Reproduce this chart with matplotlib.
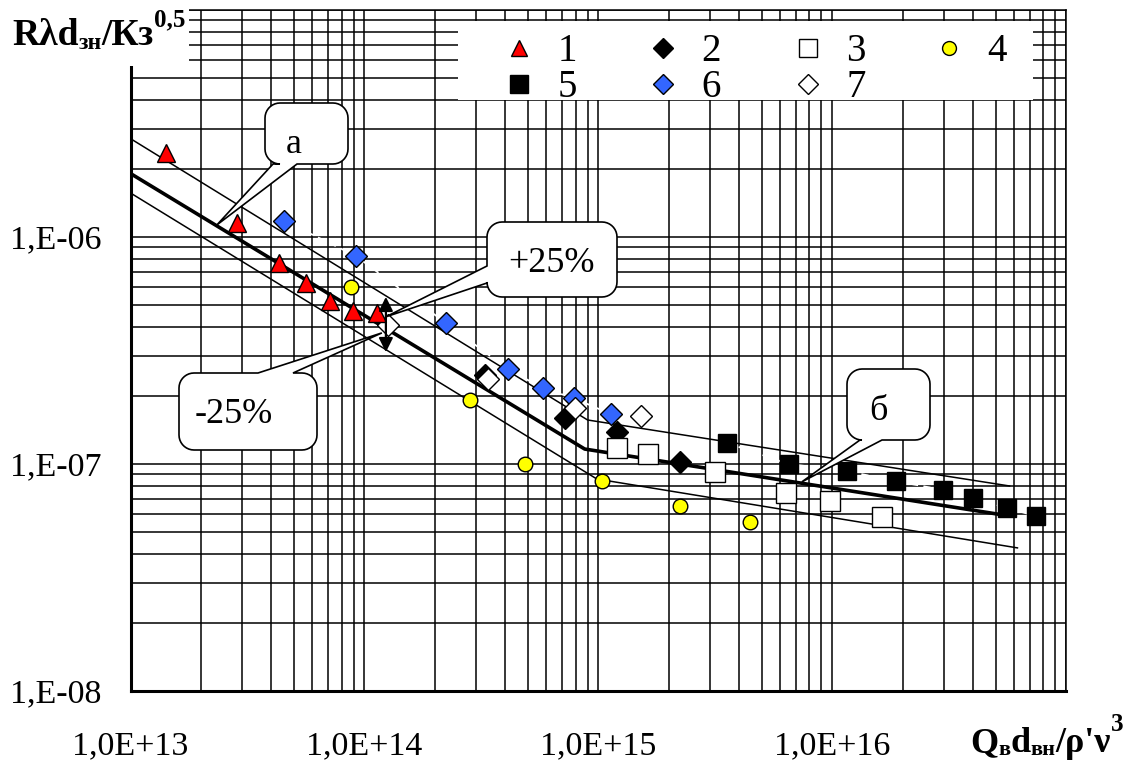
import numpy as np
import matplotlib
matplotlib.use("Agg")
import matplotlib.pyplot as plt
from matplotlib.transforms import Affine2D
from matplotlib.patches import Polygon, Rectangle
from matplotlib.lines import Line2D
from matplotlib.ticker import LogLocator, NullFormatter, FixedLocator, FixedFormatter

plt.rcParams['font.family'] = ['Liberation Serif', 'DejaVu Serif']

# ---------------- data ----------------
s1_x = [1.42e13, 2.85e13, 4.31e13, 5.62e13, 7.12e13, 8.93e13, 1.13e14]
s1_y = [2.34e-6, 1.15e-6, 7.68e-7, 6.27e-7, 5.22e-7, 4.72e-7, 4.63e-7]

s2_x = [3.27e14, 7.19e14, 1.20e15, 2.23e15]
s2_y = [2.47e-7, 1.60e-7, 1.38e-7, 1.02e-7]

s3_x = [1.20e15, 1.64e15, 3.15e15, 6.33e15, 9.76e15, 1.64e16]
s3_y = [1.18e-7, 1.11e-7, 9.22e-8, 7.45e-8, 6.87e-8, 5.84e-8]

s4_x = [8.76e13, 2.82e14, 4.85e14, 1.035e15, 2.23e15, 4.44e15]
s4_y = [6.02e-7, 1.91e-7, 1.00e-7, 8.41e-8, 6.53e-8, 5.55e-8]

s5_x = [3.54e15, 6.52e15, 1.153e16, 1.87e16, 2.99e16, 3.99e16, 5.62e16, 7.41e16]
s5_y = [1.24e-7, 1.00e-7, 9.31e-8, 8.41e-8, 7.68e-8, 7.08e-8, 6.40e-8, 5.90e-8]

s6_x = [4.53e13, 9.20e13, 2.23e14, 4.10e14, 5.79e14, 7.86e14, 1.13e15]
s6_y = [1.18e-6, 8.25e-7, 4.18e-7, 2.62e-7, 2.16e-7, 1.95e-7, 1.66e-7]

s7_x = [1.26e14, 3.37e14, 7.94e14, 1.52e15]
s7_y = [4.09e-7, 2.37e-7, 1.77e-7, 1.63e-7]

# approximation (thick) and the +/- band (thin)
mid_x = [1.025e13, 8.75e14, 5.46e16]
mid_y = [1.875e-6, 1.164e-7, 5.95e-8]
up_x = [1.025e13, 9.0e14, 5.74e16]
up_y = [2.67e-6, 1.563e-7, 8.0e-8]
lo_x = [1.0e13, 9.86e14, 6.2e16]
lo_y = [1.563e-6, 8.59e-8, 4.27e-8]

x_ticks = [1e13, 1e14, 1e15, 1e16, 1e17]
x_labels = ['1,0E+13', '1,0E+14', '1,0E+15', '1,0E+16', '']
y_ticks = [1e-8, 1e-7, 1e-6, 1e-5]
y_labels = ['1,E-08', '1,E-07', '1,E-06', '']

# ---------------- figure ----------------
W, H = 1131, 765
fig = plt.figure(figsize=(W / 100, H / 100), dpi=100)
fig.patch.set_facecolor('white')
# pixel coordinates with origin at top-left
PX = Affine2D().scale(1.0 / W, -1.0 / H).translate(0, 1) + fig.transFigure

ax = fig.add_axes([130.5 / W, (H - 691) / H, (1066 - 130.5) / W, (691 - 10) / H])
ax.set_xscale('log')
ax.set_yscale('log')
ax.set_xlim(1e13, 1e17)
ax.set_ylim(1e-8, 1e-5)

ax.xaxis.set_major_locator(FixedLocator(x_ticks))
ax.xaxis.set_major_formatter(FixedFormatter(x_labels))
ax.yaxis.set_major_locator(FixedLocator(y_ticks))
ax.yaxis.set_major_formatter(FixedFormatter(y_labels))
for axis in (ax.xaxis, ax.yaxis):
    axis.set_minor_locator(LogLocator(base=10, subs=np.arange(2, 10), numticks=100))
    axis.set_minor_formatter(NullFormatter())
ax.grid(True, which='both', color='black', lw=1.1)
ax.tick_params(which='both', length=0)
ax.tick_params(axis='x', labelsize=24.5, pad=29)
ax.tick_params(axis='y', labelsize=24.5, pad=21)
for side in ('left', 'bottom'):
    ax.spines[side].set_linewidth(2.2)
for side in ('top', 'right'):
    ax.spines[side].set_linewidth(1.1)

# band and approximation lines
ax.plot(up_x, up_y, color='black', lw=1.1, zorder=2)
ax.plot(lo_x, lo_y, color='black', lw=1.1, zorder=2)
ax.plot(mid_x, mid_y, color='black', lw=2.6, zorder=2)

# faint white connecting dashes
ax.plot(s6_x, s6_y, color='white', lw=1.3, ls=(0, (4, 3)), zorder=2.1)
ax.plot(s5_x, s5_y, color='white', lw=1.3, ls=(0, (4, 3)), zorder=2.1)

mk = dict(ls='none', markeredgecolor='black', markeredgewidth=1.0)
ax.plot(s1_x, s1_y, marker='^', ms=12.5, markerfacecolor='#ff0000', zorder=4, **mk)
ax.plot(s2_x, s2_y, marker='D', ms=11, markerfacecolor='black', zorder=3, **mk)
ax.plot(s4_x, s4_y, marker='o', ms=10.5, markerfacecolor='#ffff00', zorder=3, **mk)
ax.plot(s5_x, s5_y, marker='s', ms=13.5, markerfacecolor='black', zorder=3, **mk)
ax.plot(s6_x, s6_y, marker='D', ms=11, markerfacecolor='#3366ff', zorder=3.1, **mk)
ax.plot(s3_x, s3_y, marker='s', ms=14.5, markerfacecolor='white', zorder=3.2, **mk)
ax.plot(s7_x, s7_y, marker='D', ms=11, markerfacecolor='white', zorder=3.2, **mk)

# +/-25% double arrow
ax.annotate('', xy=(1.236e14, 5.45e-7), xytext=(1.236e14, 3.11e-7),
            arrowprops=dict(arrowstyle='<|-|>', color='black', lw=1.6,
                            mutation_scale=21, shrinkA=0, shrinkB=0), zorder=5)


def data_to_px(x, y):
    dx, dy = ax.transData.transform((x, y))
    return dx, H - dy


def callout(box, side, base, tip, r=15):
    x0, y0, x1, y1 = box
    pts = []

    def arc(cx, cy, a0, a1):
        for a in np.linspace(np.radians(a0), np.radians(a1), 10):
            pts.append((cx + r * np.cos(a), cy + r * np.sin(a)))

    arc(x0 + r, y0 + r, 180, 270)
    if side == 'top':
        pts.extend([(base[0], y0), tip, (base[1], y0)])
    arc(x1 - r, y0 + r, 270, 360)
    arc(x1 - r, y1 - r, 0, 90)
    if side == 'bottom':
        pts.extend([(base[1], y1), tip, (base[0], y1)])
    arc(x0 + r, y1 - r, 90, 180)
    if side == 'left':
        pts.extend([(x0, base[1]), tip, (x0, base[0])])
    poly = Polygon(pts, closed=True, transform=PX, facecolor='white',
                   edgecolor='black', lw=1.2, zorder=6)
    fig.add_artist(poly)


callouts = [
    ('а', (265, 103, 348, 164), 'bottom', (273, 297), (2.34e13, 1.13e-6), (294, 153)),
    ('+25%', (487, 222, 617, 297), 'left', (266, 283), (1.236e14, 4.45e-7), (551, 272)),
    ('-25%', (179, 373, 317, 450), 'top', (258, 293), (1.188e14, 3.78e-7), (234, 423)),
    ('б', (847, 369, 930, 440), 'bottom', (860, 882), (7.42e15, 8.34e-8), (878, 420)),
]
for label, box, side, base, tip_data, txy in callouts:
    tip = data_to_px(*tip_data)
    callout(box, side, base, tip)
    fig.text(txy[0], txy[1], label, transform=PX, ha='center', va='baseline',
             fontsize=26, zorder=7)

# legend panel
fig.add_artist(Rectangle((458, 21), 1033 - 458, 100 - 21, transform=PX,
                         facecolor='white', edgecolor='none', zorder=6))
leg_items = [
    (519, 48, '^', 12, '#ff0000', '1'),
    (663, 48, 'D', 10, 'black', '2'),
    (808, 48, 's', 13, 'white', '3'),
    (949, 48, 'o', 10, '#ffff00', '4'),
    (519, 84, 's', 12.5, 'black', '5'),
    (663, 84, 'D', 10, '#3366ff', '6'),
    (808, 84, 'D', 10, 'white', '7'),
]
for mx, my, m, ms, fc, lab in leg_items:
    fig.add_artist(Line2D([mx], [my], transform=PX, marker=m, ms=ms,
                          markerfacecolor=fc, markeredgecolor='black',
                          markeredgewidth=1.0, ls='none', zorder=7))
    fig.text(mx + 48, my + 13, lab, transform=PX, ha='center', va='baseline',
             fontsize=28, zorder=7)


def rich_text(x, y, pieces):
    renderer = fig.canvas.get_renderer()
    for s, size, dy in pieces:
        t = fig.text(x, y + dy, s, transform=PX, ha='left', va='baseline',
                     fontsize=size, fontweight='bold', zorder=8)
        x += t.get_window_extent(renderer).width


# y-axis title over a white patch at the top-left corner
fig.add_artist(Rectangle((0, 0), 189, 66, transform=PX, facecolor='white',
                         edgecolor='none', zorder=6))
rich_text(12, 45, [('Rλd', 27, 0), ('зн', 17, 4), ('/Кз', 27, 0), ('0,5', 18, -19)])

# x-axis title
rich_text(970, 752, [('Q', 26, 0), ('в', 16, 3), ('d', 26, 0), ('вн', 16, 3),
                     ("/ρ'ν", 26, 0), ('3', 18, -21)])

fig.savefig('out.png', dpi=100, facecolor='white')
